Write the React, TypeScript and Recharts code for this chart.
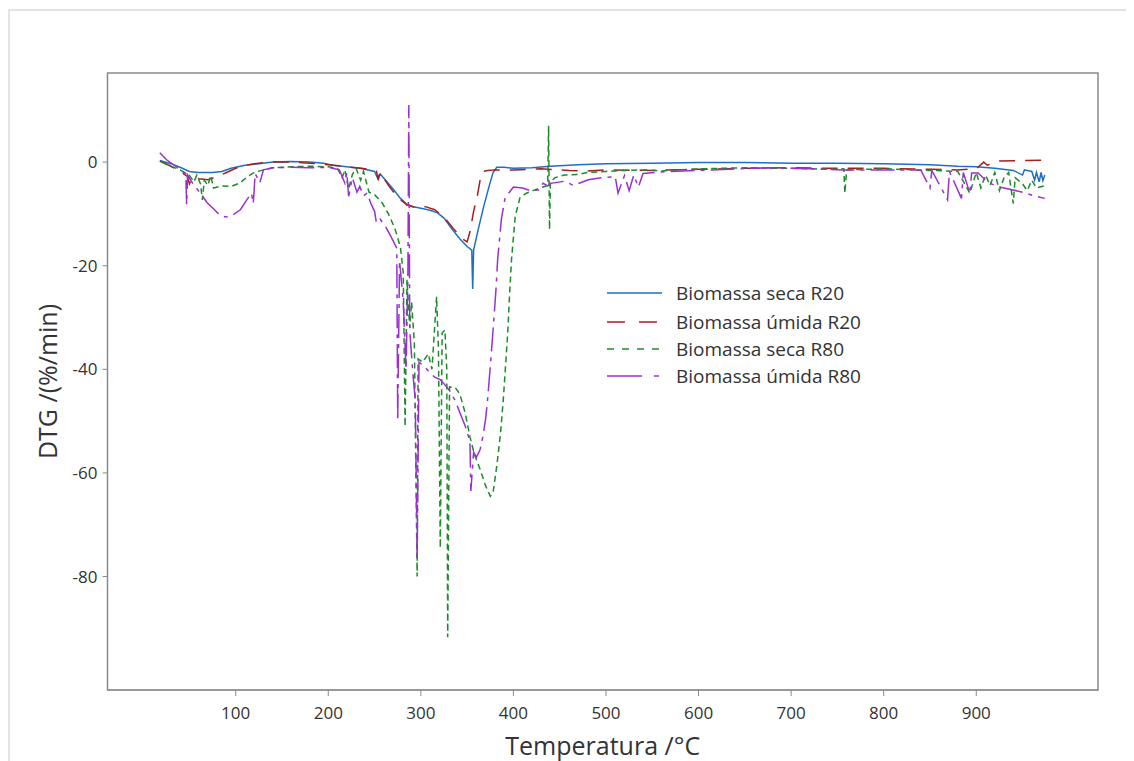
import React from 'react'
import { LineChart, Line, XAxis, YAxis, ReferenceArea } from 'recharts'

// temperature (°C) / DTG (%/min)
const tSecaR20 = [18, 30, 40, 50, 60, 75, 85, 95, 110, 125, 140, 160, 180, 195, 205, 220, 235, 250, 253, 256, 262, 270, 278, 285, 292, 300, 310, 318, 325, 333, 342, 350, 355, 356, 357, 362, 368, 374, 378, 382, 390, 400, 420, 440, 470, 500, 550, 600, 650, 700, 750, 800, 850, 880, 900, 920, 940, 950, 952, 960, 963, 965, 968, 970, 972, 974]
const vSecaR20 = [0.3, -0.3, -1.0, -1.8, -2.0, -2.0, -1.8, -1.2, -0.6, -0.3, 0.0, 0.1, 0.0, -0.2, -0.6, -0.9, -1.2, -1.8, -3.0, -2.3, -3.5, -5.2, -7.0, -8.2, -8.6, -8.9, -9.3, -9.8, -10.8, -12.8, -14.8, -16.3, -17.0, -24.5, -17.0, -13.0, -8.5, -4.5, -2.0, -1.0, -1.0, -1.2, -1.1, -0.8, -0.5, -0.3, -0.2, -0.1, -0.1, -0.2, -0.2, -0.3, -0.5, -0.8, -0.9, -1.2, -1.6, -2.5, -1.5, -1.8, -3.5, -2.0, -3.8, -2.0, -3.6, -2.5]

const tUmidaR20 = [18, 30, 40, 48, 50, 53, 60, 70, 80, 90, 100, 110, 125, 140, 160, 180, 200, 220, 240, 252, 254, 256, 265, 275, 285, 295, 305, 315, 325, 335, 345, 350, 353, 357, 361, 364, 367, 372, 380, 400, 430, 460, 480, 500, 550, 600, 650, 700, 750, 800, 850, 880, 900, 908, 912, 925, 950, 975]
const vUmidaR20 = [0.2, -0.8, -1.8, -2.8, -4.2, -3.0, -3.2, -3.4, -2.8, -2.0, -1.2, -0.6, -0.2, 0.0, 0.0, -0.2, -0.5, -0.9, -1.3, -1.7, -3.5, -2.0, -4.5, -6.8, -8.3, -8.8, -8.6, -9.2, -10.6, -12.8, -14.8, -15.4, -13.5, -9.5, -6.5, -3.5, -1.8, -1.6, -1.5, -1.5, -1.3, -1.6, -1.7, -1.5, -1.6, -1.4, -1.2, -1.1, -1.2, -1.2, -1.4, -1.5, -1.3, 0.0, -0.6, 0.2, 0.3, 0.4]

const tSecaR80 = [20, 30, 40, 50, 55, 58, 62, 64, 66, 70, 73, 76, 85, 95, 105, 112, 120, 130, 140, 160, 180, 200, 210, 215, 218, 222, 226, 230, 235, 238, 244, 250, 258, 265, 272, 278, 281, 283, 285, 288, 290, 293, 296, 297, 302, 308, 312, 317, 319, 321, 323, 326, 328, 329, 331, 337, 342, 348, 353, 358, 364, 370, 375, 378, 382, 386, 389, 392, 394, 396, 398, 402, 407, 414, 421, 432, 437, 438, 439, 440, 445, 455, 470, 480, 500, 520, 540, 560, 600, 650, 700, 750, 757, 758, 760, 800, 850, 880, 893, 900, 905, 910, 915, 920, 925, 930, 935, 940, 942, 950, 955, 960, 965, 975]
const vSecaR80 = [0.0, -0.8, -1.5, -2.6, -3.8, -2.5, -4.2, -7.3, -3.5, -4.5, -2.6, -5.0, -4.6, -4.7, -4.0, -2.9, -2.0, -1.5, -1.1, -0.9, -0.8, -0.9, -1.2, -3.0, -1.5, -5.2, -2.4, -1.2, -3.5, -1.8, -5.8, -6.3, -7.8, -10.0, -12.8, -16.5, -21.4, -51.0, -22.7, -32.0, -27.0, -35.0, -80.0, -38.0, -38.6, -37.0, -40.0, -26.0, -36.0, -74.5, -33.0, -32.4, -40.0, -91.7, -43.4, -43.5, -44.7, -48.5, -53.0, -56.5, -59.3, -62.5, -64.5, -63.8, -58.7, -52.5, -46.0, -38.0, -32.4, -25.0, -18.7, -10.4, -6.9, -6.0, -5.5, -4.8, -4.5, 7.0, -13.0, -3.8, -3.0, -2.5, -2.4, -2.0, -1.8, -1.6, -1.5, -1.7, -1.3, -1.1, -1.2, -1.4, -1.3, -6.0, -1.5, -1.3, -1.6, -1.8, -6.0, -2.0, -5.0, -2.5, -4.5, -2.0, -5.5, -3.0, -2.0, -8.0, -3.0, -4.2, -5.5, -3.5, -5.0, -4.5]

const tUmidaR80 = [18, 25, 35, 42, 46, 47, 48, 55, 62, 69, 76, 83, 90, 97, 105, 112, 117, 119, 121, 126, 130, 140, 160, 180, 200, 212, 218, 220, 222, 226, 231, 234, 238, 242, 246, 250, 252, 256, 262, 268, 274, 275, 277, 281, 284, 286, 287, 288, 291, 294, 296, 298, 304, 310, 315, 321, 326, 331, 337, 342, 348, 353, 354, 357, 360, 364, 367, 370, 372, 375, 378, 381, 383, 387, 391, 400, 410, 418, 427, 432, 437, 440, 455, 465, 481, 495, 510, 513, 520, 525, 530, 535, 540, 560, 600, 640, 675, 720, 757, 800, 840, 850, 852, 869, 871, 884, 886, 893, 895, 902, 912, 922, 935, 950, 964, 974]
const vUmidaR80 = [1.8, 0.5, -0.8, -1.8, -2.2, -8.2, -2.5, -4.5, -6.0, -7.8, -9.0, -10.3, -10.6, -10.2, -9.2, -7.3, -6.0, -8.0, -2.2, -4.0, -1.5, -1.1, -1.0, -1.1, -1.0, -1.5, -4.1, -2.0, -6.6, -3.0, -5.8, -4.7, -6.5, -6.0, -8.0, -9.5, -11.7, -11.0, -12.5, -14.5, -16.6, -50.0, -19.0, -26.9, -40.0, -22.0, 11.0, -32.4, -40.0, -46.0, -76.5, -38.6, -39.5, -40.7, -41.5, -42.0, -43.0, -44.1, -46.0, -48.3, -51.0, -53.8, -63.5, -56.0, -57.0, -55.5, -53.0, -49.5, -46.0, -39.5, -32.4, -25.0, -18.7, -11.0, -6.9, -4.8, -5.0, -5.5, -5.4, -4.1, -4.6, -4.1, -3.7, -4.5, -3.4, -3.0, -2.8, -6.0, -2.6, -5.5, -2.5, -4.8, -2.2, -1.9, -1.6, -1.3, -1.1, -1.3, -1.5, -1.5, -1.5, -5.0, -1.6, -7.3, -1.8, -7.0, -2.0, -6.0, -2.1, -2.1, -3.8, -4.7, -5.2, -5.8, -6.6, -7.0]

const xTicks = [100, 200, 300, 400, 500, 600, 700, 800, 900]
const yTicks = [0, -20, -40, -60, -80]

const xDomain = [-38.5, 1031.5]
const yDomain = [-101.9, 17.2]

const toRows = (ts: number[], vs: number[]) => ts.map((t, i) => ({ t, v: vs[i] }))

const series = [
  { name: 'Biomassa seca R20', data: toRows(tSecaR20, vSecaR20), color: '#1f6fc4', dash: undefined, legendDash: undefined },
  { name: 'Biomassa úmida R20', data: toRows(tUmidaR20, vUmidaR20), color: '#a61f1f', dash: '16 10', legendDash: '18 14' },
  { name: 'Biomassa seca R80', data: toRows(tSecaR80, vSecaR80), color: '#1d8a2c', dash: '6 4', legendDash: '7 8' },
  { name: 'Biomassa úmida R80', data: toRows(tUmidaR80, vUmidaR80), color: '#9a30d0', dash: '24 6 4 6', legendDash: '35 12 5 10' },
]

const legendRowTops = [271, 300, 327, 354]

const LegendBox = () => (
  <div style={{ position: 'absolute', left: 599, top: 0, fontSize: 19, color: '#333', lineHeight: '28px' }}>
    {series.map((s, i) => (
      <div key={s.name} style={{ position: 'absolute', top: legendRowTops[i], left: 0, display: 'flex', alignItems: 'center', whiteSpace: 'nowrap' }}>
        <svg width={56} height={10} style={{ marginRight: 13 }}>
          <line x1={0} y1={5} x2={55} y2={5} stroke={s.color} strokeWidth={1.6} strokeDasharray={s.legendDash} />
        </svg>
        <span>{s.name}</span>
      </div>
    ))}
  </div>
)

export default function App() {
  return (
    <div style={{ position: 'relative', width: 1126, height: 753, fontFamily: '"Open Sans", "Noto Sans", sans-serif' }}>
      <div style={{ position: 'absolute', left: 0, top: 1, width: 1126, height: 760, borderLeft: '2px solid #e3e3e3', borderTop: '2px solid #e3e3e3' }} />
      <LineChart width={1126} height={753} margin={{ top: 65, right: 36, left: 29.5, bottom: 0 }}>
        <XAxis
          dataKey="t"
          type="number"
          domain={xDomain}
          ticks={xTicks}
          allowDataOverflow
          height={71}
          tickSize={6}
          tickMargin={11}
          stroke="#8a8a8a"
          tick={{ fill: '#333', fontSize: 17 }}
          label={{ value: 'Temperatura /°C', position: 'insideBottom', offset: 6, style: { fontSize: 25, fill: '#333' } }}
        />
        <YAxis
          type="number"
          domain={yDomain}
          ticks={yTicks}
          allowDataOverflow
          width={70}
          tickSize={5}
          tickMargin={5}
          stroke="#8a8a8a"
          tick={{ fill: '#333', fontSize: 17 }}
          label={{ value: 'DTG /(%/min)', angle: -90, position: 'insideLeft', offset: 10.5, style: { textAnchor: 'middle', fontSize: 25, fill: '#333' } }}
        />
        <ReferenceArea x1={xDomain[0]} x2={xDomain[1]} y1={yDomain[0]} y2={yDomain[1]} fill="none" stroke="#8a8a8a" strokeWidth={1.5} />
        {series.map((s) => (
          <Line
            key={s.name}
            data={s.data}
            dataKey="v"
            name={s.name}
            type="linear"
            stroke={s.color}
            strokeWidth={1.5}
            strokeDasharray={s.dash}
            dot={false}
            isAnimationActive={false}
          />
        ))}
      </LineChart>
      <LegendBox />
    </div>
  )
}
